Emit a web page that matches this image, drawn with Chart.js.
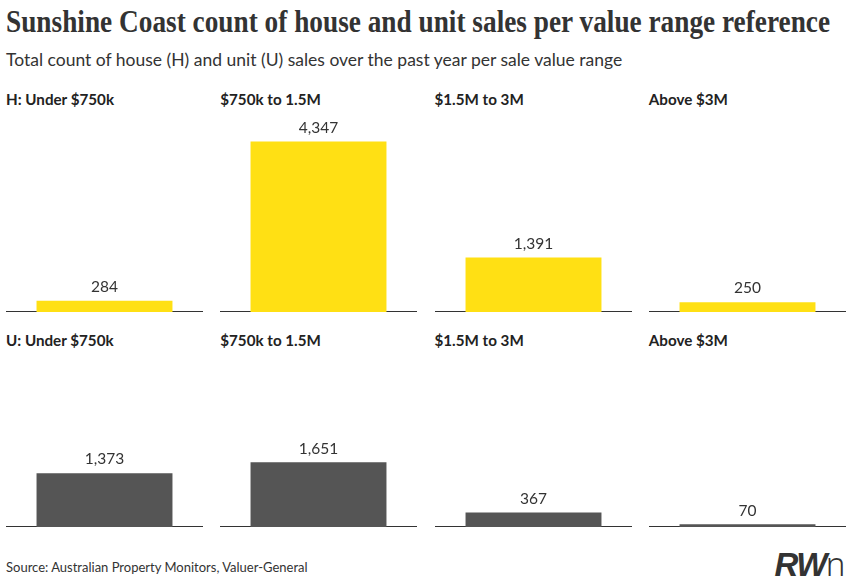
<!DOCTYPE html>
<html>
<head>
<meta charset="utf-8">
<script src="https://cdn.jsdelivr.net/npm/chart.js@4.4.1/dist/chart.umd.min.js"></script>
<style>
  body { margin: 0; background: #fff; width: 852px; height: 582px; overflow: hidden; position: relative; font-family: Lato, "Noto Sans", sans-serif; color: #333; }
  #title { position: absolute; left: 6px; top: 4px; font-family: "Liberation Serif", serif; font-weight: bold; font-size: 31px; color: #333; white-space: nowrap; transform-origin: 0 0; }
  #subtitle { position: absolute; left: 6px; top: 49px; font-size: 17.5px; color: #333; white-space: nowrap; }
  .label { position: absolute; font-weight: bold; font-size: 15.2px; color: #222; white-space: nowrap; }
  .panel { position: absolute; width: 197px; height: 196px; }
  #source { position: absolute; left: 6px; top: 559px; font-size: 13px; color: #333; }
  #logo { position: absolute; right: 8px; top: 541px; font-size: 33px; color: #333; font-family: "Liberation Sans", sans-serif; letter-spacing: -1.5px; }
  #logo b { font-style: italic; font-weight: 900; }
  #logo span { font-weight: 300; font-family: "Noto Sans", sans-serif; }
</style>
</head>
<body>
<div id="title">Sunshine Coast count of house and unit sales per value range reference</div>
<div id="subtitle">Total count of house (H) and unit (U) sales over the past year per sale value range</div>
<div id="panels"></div>
<div id="source">Source: Australian Property Monitors, Valuer-General</div>
<div id="logo"><b>RW</b><span>n</span></div>
<script>
// value ranges and sales counts
const ranges = ['Under $750k', '$750k to 1.5M', '$1.5M to 3M', 'Above $3M'];
const houseSales = [284, 4347, 1391, 250];
const unitSales = [1373, 1651, 367, 70];
const yMax = 5000;

// squeeze the serif title to the width of the original
const title = document.getElementById('title');
title.style.transform = 'scaleX(' + (824 / title.offsetWidth) + ')';

const rows = [
    { prefix: 'H: ', values: houseSales, color: '#FFE014', labelTop: 90, baseline: 311 },
    { prefix: 'U: ', values: unitSales, color: '#555555', labelTop: 331, baseline: 526 }
];

// draw the count above each bar
const valueLabels = {
    id: 'valueLabels',
    afterDatasetsDraw(chart) {
        const ctx = chart.ctx;
        const meta = chart.getDatasetMeta(0);
        meta.data.forEach((bar, i) => {
            const v = chart.data.datasets[0].data[i];
            ctx.save();
            ctx.fillStyle = '#333';
            ctx.font = '15.5px Lato';
            ctx.textAlign = 'center';
            ctx.textBaseline = 'bottom';
            ctx.fillText(v.toLocaleString('en-US'), bar.x, bar.y - 6);
            ctx.restore();
        });
    }
};

const container = document.getElementById('panels');
rows.forEach(row => {
    ranges.forEach((range, i) => {
        const left = 6 + i * 214.25;

        const label = document.createElement('div');
        label.className = 'label';
        label.style.left = left + 'px';
        label.style.top = row.labelTop + 'px';
        label.textContent = (i === 0 ? row.prefix : '') + range;
        container.appendChild(label);

        const panel = document.createElement('div');
        panel.className = 'panel';
        panel.style.left = left + 'px';
        panel.style.top = (row.baseline - 195) + 'px';
        const canvas = document.createElement('canvas');
        panel.appendChild(canvas);
        container.appendChild(panel);

        new Chart(canvas, {
            type: 'bar',
            data: {
                labels: [range],
                datasets: [{
                    data: [row.values[i]],
                    backgroundColor: row.color,
                    categoryPercentage: 0.69,
                    barPercentage: 1
                }]
            },
            options: {
                responsive: true,
                maintainAspectRatio: false,
                animation: false,
                layout: { padding: 0 },
                plugins: { legend: { display: false }, tooltip: { enabled: false } },
                scales: {
                    x: {
                        grid: { display: false, drawTicks: false },
                        ticks: { display: false },
                        border: { display: true, color: '#333', width: 1.5 }
                    },
                    y: {
                        display: false,
                        min: 0,
                        max: yMax
                    }
                }
            },
            plugins: [valueLabels]
        });
    });
});
</script>
</body>
</html>
